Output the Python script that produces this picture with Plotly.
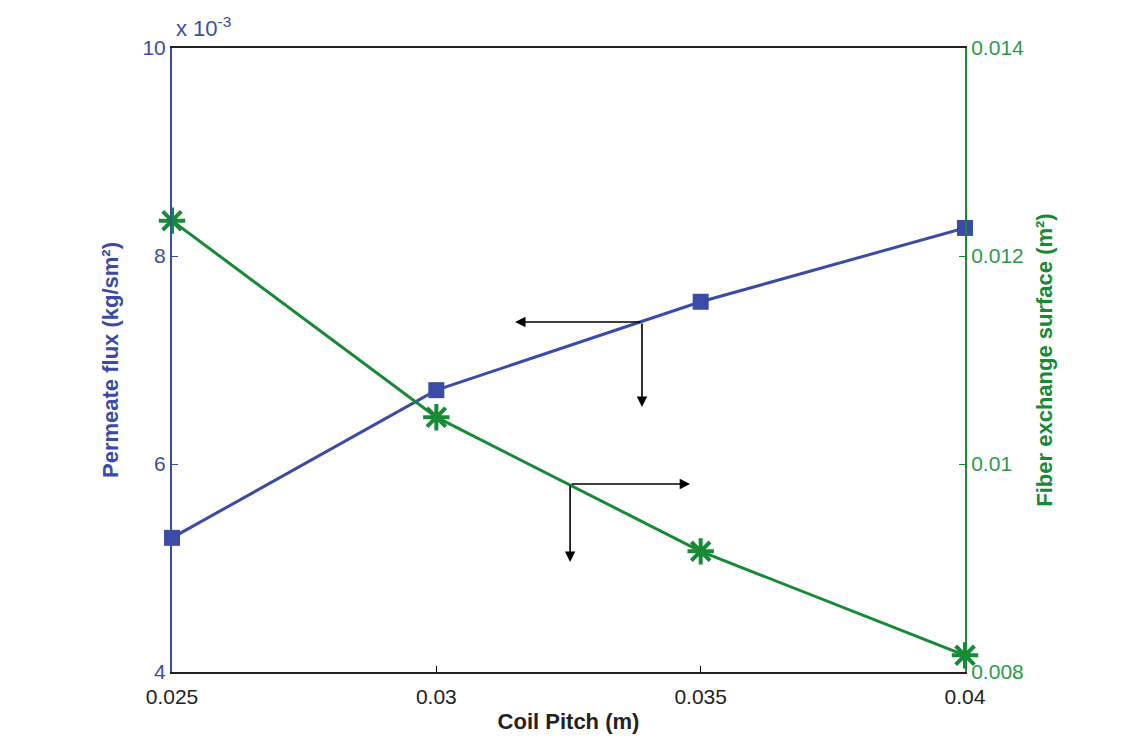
import plotly.graph_objects as go

coil_pitch = [0.025, 0.030, 0.035, 0.040]
permeate_flux_e3 = [5.29, 6.71, 7.56, 8.27]          # x 10^-3 kg/sm²
fiber_surface = [0.01234, 0.01045, 0.00916, 0.00816]  # m²

x_ticks = [0.025, 0.03, 0.035, 0.04]
x_ticklabels = ["0.025", "0.03", "0.035", "0.04"]
left_ticks = [4, 6, 8, 10]
right_ticks = [0.008, 0.010, 0.012, 0.014]
right_ticklabels = ["0.008", "0.01", "0.012", "0.014"]

BLUE = "#3b4ca8"
GREEN = "#178a36"
GREEN_TXT = "#2a9a48"
FONT = "Liberation Sans, Arial, sans-serif"
TICK = 21
TITLE = 22

fig = go.Figure()
fig.add_trace(go.Scatter(
    x=coil_pitch, y=permeate_flux_e3, mode="lines+markers",
    line=dict(color=BLUE, width=3),
    marker=dict(symbol="square", size=16, color=BLUE),
    yaxis="y", showlegend=False, cliponaxis=False))
fig.add_trace(go.Scatter(
    x=coil_pitch, y=fiber_surface, mode="lines+markers",
    line=dict(color=GREEN, width=3),
    marker=dict(symbol="asterisk-open", size=22, line=dict(color=GREEN, width=4)),
    yaxis="y2", showlegend=False, cliponaxis=False))

# arrows indicating which axis each curve belongs to
arrows = [
    dict(x=0.03149, y=7.365, ax=0.03389, ay=7.365),
    dict(x=0.03389, y=6.548, ax=0.03389, ay=7.365),
    dict(x=0.0348, y=5.808, ax=0.03253, ay=5.808),
    dict(x=0.03253, y=5.058, ax=0.03253, ay=5.808),
]
for a in arrows:
    fig.add_annotation(x=a["x"], y=a["y"], ax=a["ax"], ay=a["ay"],
                       xref="x", yref="y", axref="x", ayref="y",
                       showarrow=True, arrowhead=2, arrowsize=1.3,
                       arrowwidth=1.6, arrowcolor="black", text="")

fig.add_annotation(x=0.003, y=1.008, xref="paper", yref="paper",
                   xanchor="left", yanchor="bottom", showarrow=False,
                   text="x 10<sup>-3</sup>", font=dict(family=FONT, size=22, color=BLUE))

fig.update_layout(
    width=1143, height=741,
    margin=dict(l=172, r=178, t=48, b=69),
    paper_bgcolor="white", plot_bgcolor="white",
    xaxis=dict(range=[0.025, 0.04], tickvals=x_ticks, ticktext=x_ticklabels,
               showline=True, linecolor="#222222", linewidth=2, mirror=True,
               ticks="inside", ticklen=6, tickcolor="black", showgrid=False, zeroline=False,
               ticklabelstandoff=5,
               tickfont=dict(family=FONT, size=TICK, color="#222222"),
               title=dict(text="<b>Coil Pitch (m)</b>", standoff=6,
                          font=dict(family=FONT, size=TITLE, color="#222222"))),
    yaxis=dict(range=[4, 10], tickvals=left_ticks,
               showline=True, linecolor=BLUE, linewidth=2,
               ticks="inside", ticklen=6, tickcolor=BLUE, showgrid=False, zeroline=False,
               tickfont=dict(family=FONT, size=TICK, color=BLUE),
               title=dict(text="<b>Permeate flux (kg/sm²)</b>", standoff=18,
                          font=dict(family=FONT, size=TITLE, color=BLUE))),
    yaxis2=dict(range=[0.008, 0.014], tickvals=right_ticks, ticktext=right_ticklabels,
                overlaying="y", side="right",
                showline=True, linecolor=GREEN, linewidth=2,
                ticks="inside", ticklen=6, tickcolor=GREEN, showgrid=False, zeroline=False,
                tickfont=dict(family=FONT, size=TICK, color=GREEN_TXT),
                title=dict(text="<b>Fiber exchange surface (m²)</b>", standoff=14,
                           font=dict(family=FONT, size=TITLE, color=GREEN))),
)

fig.write_html("out.html")
